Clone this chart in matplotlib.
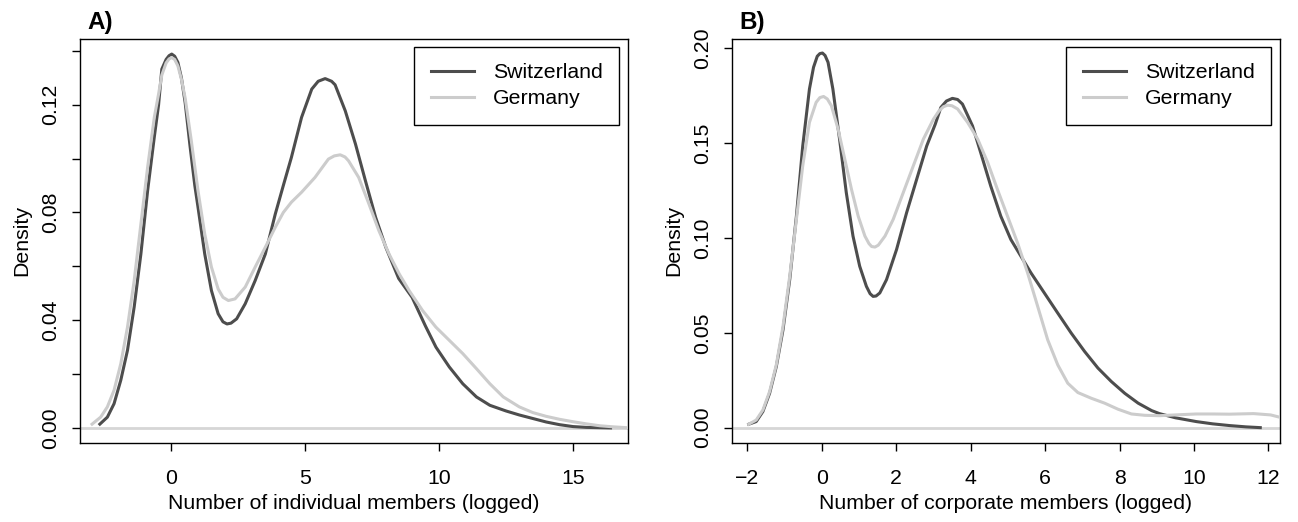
import matplotlib
matplotlib.use('Agg')
import matplotlib.pyplot as plt

plt.rcParams['font.family'] = ['Liberation Sans', 'DejaVu Sans']

# Panel A: density of number of individual members (logged)
swiss_ind_x = [-2.64, -2.36, -2.11, -1.86, -1.61, -1.36, -1.11, -0.86, -0.61, -0.45,
               -0.33, -0.17, -0.06, 0.04, 0.15, 0.27, 0.40, 0.54, 0.72, 0.90,
               1.02, 1.27, 1.52, 1.77, 1.95, 2.10, 2.25, 2.46, 2.78, 3.15,
               3.53, 3.90, 4.20, 4.50, 4.88, 5.26, 5.50, 5.76, 6.00, 6.13,
               6.51, 6.89, 7.26, 7.64, 8.02, 8.50, 9.00, 9.50, 9.89, 10.39,
               10.89, 11.40, 11.90, 12.50, 13.00, 13.50, 14.00, 14.50, 15.00, 15.50,
               16.40]
swiss_ind_y = [0.0014, 0.0040, 0.0090, 0.0177, 0.0288, 0.0449, 0.0646, 0.0880, 0.1080, 0.1200,
               0.1332, 0.1368, 0.1382, 0.1388, 0.1380, 0.1357, 0.1300, 0.1208, 0.1048, 0.0900,
               0.0819, 0.0646, 0.0510, 0.0424, 0.0394, 0.0386, 0.0389, 0.0405, 0.0461, 0.0547,
               0.0646, 0.0794, 0.0900, 0.1004, 0.1153, 0.1258, 0.1287, 0.1297, 0.1287, 0.1274,
               0.1177, 0.1054, 0.0918, 0.0782, 0.0671, 0.0555, 0.0485, 0.0378, 0.0300, 0.0226,
               0.0164, 0.0115, 0.0084, 0.0063, 0.0048, 0.0035, 0.0022, 0.0012, 0.0005, 0.0002,
               0.0000]
germ_ind_x = [-2.93, -2.61, -2.36, -2.11, -1.86, -1.61, -1.36, -1.11, -0.86, -0.61,
              -0.45, -0.33, -0.17, -0.06, 0.04, 0.15, 0.27, 0.40, 0.54, 0.77,
              1.02, 1.27, 1.52, 1.77, 1.95, 2.15, 2.40, 2.78, 3.15, 3.53,
              3.90, 4.20, 4.50, 4.88, 5.38, 5.88, 6.10, 6.32, 6.50, 6.63,
              7.01, 7.39, 7.76, 8.14, 8.52, 8.89, 9.39, 9.89, 10.39, 10.89,
              11.40, 11.90, 12.40, 13.00, 13.50, 14.00, 14.50, 15.00, 15.50, 16.00,
              16.50, 17.00, 17.50]
germ_ind_y = [0.0014, 0.0040, 0.0078, 0.0140, 0.0238, 0.0374, 0.0547, 0.0757, 0.0967, 0.1153,
              0.1240, 0.1310, 0.1355, 0.1370, 0.1375, 0.1368, 0.1344, 0.1295, 0.1225, 0.1066,
              0.0880, 0.0720, 0.0597, 0.0516, 0.0485, 0.0473, 0.0479, 0.0523, 0.0597, 0.0671,
              0.0745, 0.0800, 0.0838, 0.0875, 0.0930, 0.0998, 0.1010, 0.1014, 0.1006, 0.0992,
              0.0930, 0.0832, 0.0733, 0.0646, 0.0572, 0.0510, 0.0436, 0.0374, 0.0325, 0.0276,
              0.0220, 0.0164, 0.0115, 0.0078, 0.0057, 0.0043, 0.0032, 0.0023, 0.0015, 0.0008,
              0.0004, 0.0001, 0.0000]

# Panel B: density of number of corporate members (logged)
swiss_corp_x = [-1.96, -1.76, -1.58, -1.40, -1.22, -1.04, -0.86, -0.68, -0.51, -0.33,
                -0.22, -0.12, -0.05, 0.02, 0.09, 0.17, 0.30, 0.48, 0.66, 0.84,
                1.02, 1.20, 1.30, 1.38, 1.46, 1.56, 1.74, 2.01, 2.28, 2.55,
                2.82, 3.05, 3.20, 3.35, 3.51, 3.65, 3.78, 4.05, 4.27, 4.54,
                4.81, 5.08, 5.35, 5.62, 5.98, 6.34, 6.70, 7.06, 7.42, 7.78,
                8.14, 8.50, 8.86, 9.07, 9.50, 10.06, 10.50, 10.95, 11.40, 11.78]
swiss_corp_y = [0.0018, 0.0032, 0.0085, 0.0181, 0.0322, 0.0516, 0.0780, 0.1115, 0.1485, 0.1785,
                0.1900, 0.1958, 0.1972, 0.1975, 0.1962, 0.1926, 0.1785, 0.1520, 0.1239, 0.1010,
                0.0851, 0.0745, 0.0706, 0.0692, 0.0694, 0.0710, 0.0780, 0.0939, 0.1133, 0.1309,
                0.1485, 0.1600, 0.1688, 0.1722, 0.1736, 0.1730, 0.1706, 0.1591, 0.1450, 0.1274,
                0.1115, 0.0992, 0.0904, 0.0816, 0.0710, 0.0604, 0.0499, 0.0402, 0.0314, 0.0243,
                0.0181, 0.0129, 0.0090, 0.0074, 0.0052, 0.0032, 0.0020, 0.0011, 0.0004, 0.0000]
germ_corp_x = [-1.96, -1.76, -1.58, -1.40, -1.22, -1.04, -0.86, -0.68, -0.51, -0.33,
               -0.15, -0.05, 0.05, 0.15, 0.26, 0.44, 0.62, 0.80, 0.98, 1.16,
               1.27, 1.34, 1.43, 1.52, 1.70, 1.92, 2.19, 2.46, 2.73, 3.00,
               3.15, 3.27, 3.38, 3.50, 3.65, 3.92, 4.19, 4.46, 4.72, 4.99,
               5.26, 5.53, 5.80, 6.07, 6.34, 6.61, 6.88, 7.24, 7.60, 7.96,
               8.32, 8.68, 9.07, 9.60, 10.06, 10.50, 10.95, 11.60, 12.06, 12.34,
               12.60]
germ_corp_y = [0.0018, 0.0040, 0.0093, 0.0190, 0.0331, 0.0534, 0.0798, 0.1098, 0.1380, 0.1609,
               0.1715, 0.1740, 0.1746, 0.1733, 0.1697, 0.1574, 0.1415, 0.1256, 0.1115, 0.1010,
               0.0970, 0.0955, 0.0952, 0.0962, 0.1010, 0.1098, 0.1239, 0.1380, 0.1521, 0.1626,
               0.1670, 0.1692, 0.1700, 0.1697, 0.1680, 0.1609, 0.1521, 0.1397, 0.1256, 0.1115,
               0.0974, 0.0816, 0.0640, 0.0463, 0.0331, 0.0234, 0.0185, 0.0155, 0.0129, 0.0097,
               0.0072, 0.0065, 0.0063, 0.0068, 0.0072, 0.0072, 0.0071, 0.0074, 0.0067, 0.0053,
               0.0040]

series_names = ['Switzerland', 'Germany']

ind_xticks = [0, 5, 10, 15]
ind_xticklabels = ['0', '5', '10', '15']
ind_yticks = [0.00, 0.02, 0.04, 0.06, 0.08, 0.10, 0.12, 0.14]
ind_yticklabels = ['0.00', '', '0.04', '', '0.08', '', '0.12', '']

corp_xticks = [-2, 0, 2, 4, 6, 8, 10, 12]
corp_xticklabels = ['\u22122', '0', '2', '4', '6', '8', '10', '12']
corp_yticks = [0.00, 0.05, 0.10, 0.15, 0.20]
corp_yticklabels = ['0.00', '0.05', '0.10', '0.15', '0.20']

dark = '#4d4d4d'
light = '#cccccc'
fs = 15.3

W, H = 1298, 522
fig = plt.figure(figsize=(W / 100, H / 100), dpi=100)

def make_axes(left, top, right, bottom):
    return fig.add_axes([left / W, 1 - bottom / H, (right - left) / W, (bottom - top) / H])

def draw_panel(ax, sx, sy, gx, gy, xlim, ylim, xticks, xlabels, yticks, ylabels, xlabel, tag):
    ax.axhline(0, color='#d6d6d6', lw=2, zorder=1)
    l1, = ax.plot(sx, sy, color=dark, lw=2.2, zorder=2, solid_joinstyle='round')
    l2, = ax.plot(gx, gy, color=light, lw=2.2, zorder=3, solid_joinstyle='round')
    ax.set_xlim(*xlim)
    ax.set_ylim(*ylim)
    ax.set_xticks(xticks)
    ax.set_xticklabels(xlabels, fontsize=fs)
    ax.set_yticks(yticks)
    ax.set_yticklabels(ylabels, fontsize=fs, rotation=90, va='center')
    ax.tick_params(direction='out', length=5.8, width=1.0, color='black')
    ax.tick_params(axis='x', pad=13)
    ax.tick_params(axis='y', pad=8.7)
    for s in ax.spines.values():
        s.set_linewidth(1.0)
    w_px = 548
    h_px = 404
    ax.set_xlabel(xlabel, fontsize=fs, va='top')
    ax.xaxis.set_label_coords(0.5, -51 / h_px)
    ax.set_ylabel('Density', fontsize=fs)
    ax.yaxis.set_label_coords(-49 / w_px, 0.5)
    leg = ax.legend([l1, l2], series_names, loc='upper right',
                    bbox_to_anchor=(1 - 9 / w_px, 1 - 7.5 / h_px), borderaxespad=0,
                    fancybox=False, edgecolor='black', framealpha=1, fontsize=fs,
                    handlelength=2.0, handletextpad=0.9, borderpad=0.78, labelspacing=0.33)
    leg.get_frame().set_linewidth(1.0)
    ax.text(7 / w_px, 1 + 17 / h_px, tag, transform=ax.transAxes, fontsize=17.5,
            fontweight='bold', ha='left', va='center')

axA = make_axes(80, 39, 628, 443)
draw_panel(axA, swiss_ind_x, swiss_ind_y, germ_ind_x, germ_ind_y,
           (-3.38, 17.05), (-0.0056, 0.1444), ind_xticks, ind_xticklabels,
           ind_yticks, ind_yticklabels, 'Number of individual members (logged)', 'A)')

axB = make_axes(732, 39, 1280, 443)
draw_panel(axB, swiss_corp_x, swiss_corp_y, germ_corp_x, germ_corp_y,
           (-2.41, 12.31), (-0.0081, 0.2049), corp_xticks, corp_xticklabels,
           corp_yticks, corp_yticklabels, 'Number of corporate members (logged)', 'B)')

fig.savefig('out.png', dpi=100)
